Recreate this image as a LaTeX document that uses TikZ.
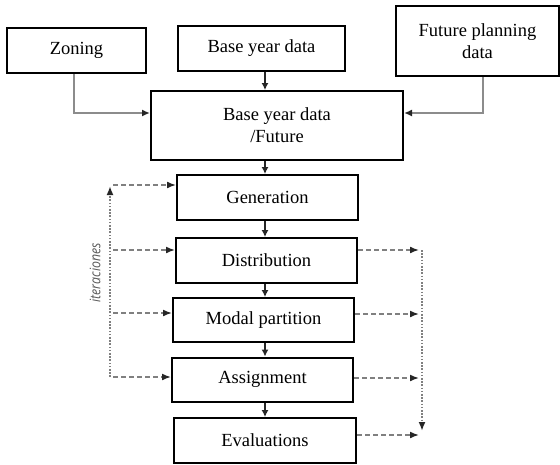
\documentclass[tikz,border=0pt]{standalone}
\usepackage{fontspec}
\setmainfont{Liberation Serif}
\newfontfamily\iterfont[FakeStretch=0.85]{Open Sans}
\usetikzlibrary{positioning,arrows.meta}

\begin{document}
\begin{tikzpicture}
    [x=1pt,y=-1pt,every node/.style={draw, line width=2pt, rectangle, inner sep=0pt, minimum height=45pt, align=center, font=\fontsize{18.5}{22}\selectfont},
     chain/.style={draw=black!85, line width=1.2pt, -{Latex[length=7pt,width=7pt]}},
     feed/.style={draw=black!45, line width=1.6pt, -{Latex[length=8pt,width=7pt,color=black!85]}},
     iter/.style={draw=black!50, line width=1.6pt, dash pattern=on 5pt off 3pt, -{Latex[length=9pt,width=7pt,color=black!85]}},
     cycleline/.style={draw=black!50, line width=2pt, dash pattern=on 1.6pt off 1.6pt, -{Latex[length=9pt,width=7pt,color=black!85]}}]
  \useasboundingbox (0,0) rectangle (560,464);

  \node[minimum width=139pt] (zon) at (76.5,50.5) {Zoning};
  \node[minimum width=167pt] (base) at (261.5,48.5) {Base year data};
  \node[minimum width=163pt, minimum height=70pt] (fut) at (477.5,41) {Future planning\\data};
  \node[minimum width=252pt, minimum height=69pt] (data) at (277,125.5) {Base year data\\/Future};

  \node[minimum width=181pt] (gen) at (267.5,197.5) {Generation};
  \node[minimum width=181pt] (dist) at (266.5,260.5) {Distribution};
  \node[minimum width=181pt, minimum height=44pt] (modal) at (263.5,320) {Modal partition};
  \node[minimum width=181pt, minimum height=44pt] (asg) at (262.5,379.5) {Assignment};
  \node[minimum width=182pt] (eval) at (265,440.5) {Evaluations};

  \node[draw=none, minimum height=0pt, rotate=90, text=black!65, font=\iterfont\itshape\fontsize{14.5}{15}\selectfont] (itlab) at (95,273) {iteraciones};

  % main chain
  \coordinate (col) at (265,0);
  \foreach \from/\to in {base/data, data/gen, gen/dist, dist/modal, modal/asg, asg/eval}
    \draw[chain] (\from.south -| col) -- (\to.north -| col);

  % inputs
  \draw[feed] ([xshift=-2.5pt]zon.south) |- ([yshift=12.5pt]data.west);
  \draw[feed] ([xshift=5.5pt]fut.south) |- ([yshift=12.5pt]data.east);

  % iterations, left
  \coordinate (l1) at (110,185);
  \coordinate (l2) at (110,250);
  \coordinate (l3) at (110,313);
  \coordinate (l4) at (110,377);
  \draw[cycleline] (l4) -- ([yshift=-1pt]l1);
  \foreach \c/\n in {l1/gen, l2/dist, l3/modal, l4/asg}
    \draw[iter] ([xshift=3pt]\c) -- (\c -| \n.west);

  % iterations, right
  \coordinate (r1) at (422,250);
  \coordinate (r2) at (422,314);
  \coordinate (r3) at (422,378);
  \coordinate (r4) at (422,435);
  \coordinate (rb) at (422,431);
  \draw[cycleline] (r1) -- (rb);
  \foreach \c/\n in {r1/dist, r2/modal, r3/asg, r4/eval}
    \draw[iter] (\n.east |- \c) -- ([xshift=-3pt]\c);
\end{tikzpicture}
\end{document}
